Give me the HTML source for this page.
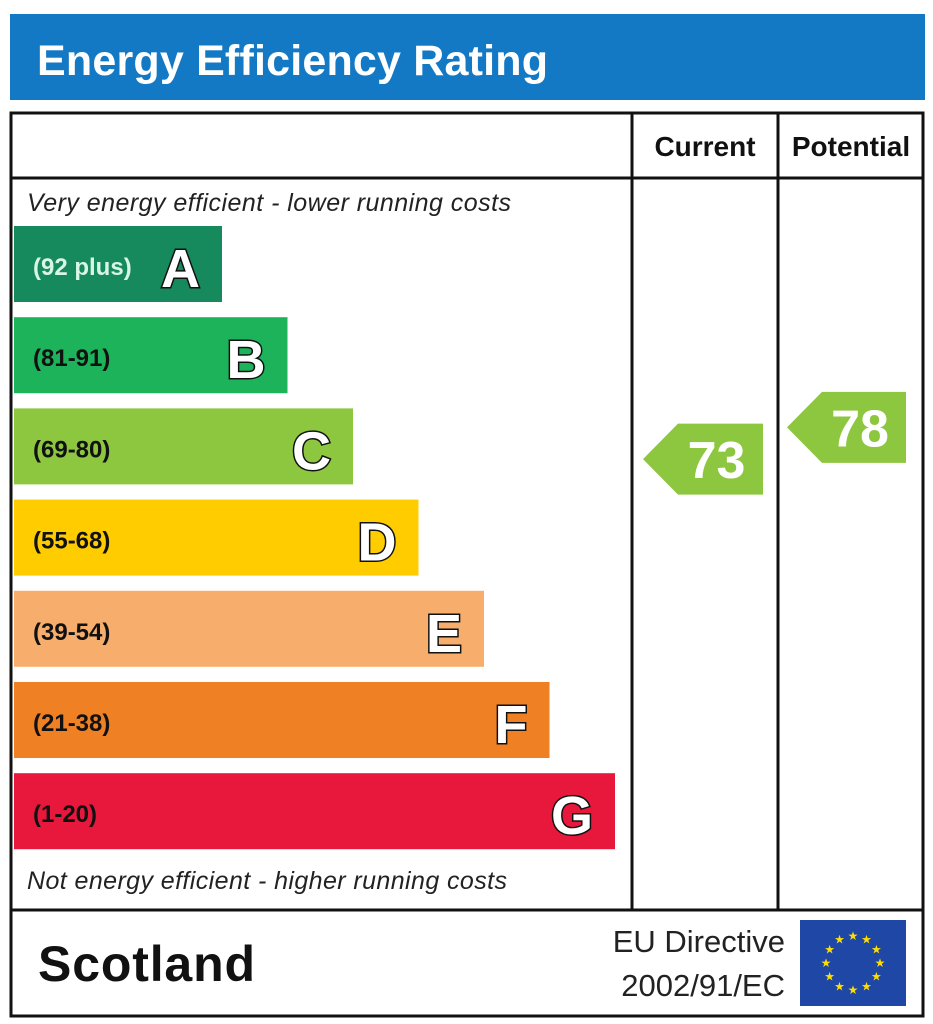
<!DOCTYPE html>
<html><head><meta charset="utf-8"><style>
body{margin:0;background:#fff;}
svg{display:block;font-family:"Liberation Sans",Arial,sans-serif;}
</style></head><body>
<svg id="c" width="933" height="1024" viewBox="0 0 933 1024">
<rect x="10" y="14" width="915" height="86" fill="#1479c4"/>
<text x="37" y="75" font-size="43" font-weight="bold" fill="#fff" textLength="511">Energy Efficiency Rating</text>
<rect x="11" y="113" width="912" height="797" fill="none" stroke="#111" stroke-width="3"/>
<line x1="632" y1="113" x2="632" y2="910" stroke="#111" stroke-width="3"/>
<line x1="778" y1="113" x2="778" y2="910" stroke="#111" stroke-width="3"/>
<line x1="11" y1="178" x2="923" y2="178" stroke="#111" stroke-width="3"/>
<text x="705" y="156" font-size="28" font-weight="bold" text-anchor="middle" fill="#111">Current</text>
<text x="851" y="156" font-size="28" font-weight="bold" text-anchor="middle" fill="#111">Potential</text>
<text x="27" y="211" font-size="25" font-style="italic" fill="#222" textLength="484">Very energy efficient - lower running costs</text>
<text x="27" y="889" font-size="25" font-style="italic" fill="#222" textLength="480">Not energy efficient - higher running costs</text>
<g id="bands"></g>
<g id="arrows"></g>
<rect x="11" y="910" width="912" height="106" fill="none" stroke="#111" stroke-width="3"/>
<text x="38" y="981" font-size="50" font-weight="bold" fill="#111" textLength="217">Scotland</text>
<text x="785" y="952" font-size="31" text-anchor="end" fill="#222">EU Directive</text>
<text x="785" y="996" font-size="31" text-anchor="end" fill="#222">2002/91/EC</text>
<rect x="800" y="920" width="106" height="86" fill="#1f47a6"/>
<g id="stars"></g>
</svg>
<script>
const bandLetters=["A","B","C","D","E","F","G"];
const bandRanges=["(92 plus)","(81-91)","(69-80)","(55-68)","(39-54)","(21-38)","(1-20)"];
const bandMin=[92,81,69,55,39,21,1];
const bandMax=[100,91,80,68,54,38,20];
const bandColors=["#168a5c","#1db35b","#8dc63f","#ffcc00","#f7ae6d","#ef8024","#e8173c"];
const currentValue=73;
const potentialValue=78;
const NS="http://www.w3.org/2000/svg";
function mk(t,a,p){const e=document.createElementNS(NS,t);for(const k in a)e.setAttribute(k,a[k]);p.appendChild(e);return e;}
const bandTop=i=>226+i*91.2, bandH=76;
const bandW=i=>208+i*65.5;
function valueY(v){for(let i=0;i<bandMin.length;i++){if(v>=bandMin[i]&&v<=bandMax[i]){return bandTop(i)+bandH-(v-bandMin[i])/(bandMax[i]-bandMin[i]+1)*bandH;}}return 500;}
function bandOf(v){for(let i=0;i<bandMin.length;i++)if(v>=bandMin[i]&&v<=bandMax[i])return i;return 0;}
const bg=document.getElementById('bands');
bandLetters.forEach((L,i)=>{
 const y=bandTop(i),w=bandW(i);
 const r=mk('rect',{x:14,y:y,width:w,height:bandH,fill:bandColors[i]},bg);
 
 
 const t=mk('text',{x:33,y:y+49,'font-size':24,'font-weight':'bold',fill:i==0?'#d8f5e6':'#111'},bg);
 t.textContent=bandRanges[i];
 
 
 const l=mk('text',{x:14+w-22,y:y+61,'font-size':54,'font-weight':'bold',fill:'#fff',stroke:'#111','stroke-width':3,'paint-order':'stroke','text-anchor':'end'},bg);
 l.textContent=L;
 
 
});
const ag=document.getElementById('arrows');
function arrow(v,x0,x1,name){
 const cy=valueY(v),h=71,tip=35;
 const p=mk('polygon',{points:`${x0},${cy} ${x0+tip},${cy-h/2} ${x1},${cy-h/2} ${x1},${cy+h/2} ${x0+tip},${cy+h/2}`,fill:bandColors[bandOf(v)]},ag);
 
 
 const t=mk('text',{x:(x0+tip+x1)/2-4,y:cy+19,'font-size':52,'font-weight':'bold',fill:'#fff','text-anchor':'middle'},ag);
 t.textContent=v;
 
 
}
arrow(currentValue,643,763,'current');
arrow(potentialValue,787,906,'potential');
const sg=document.getElementById('stars');
for(let k=0;k<12;k++){
 const a=k*Math.PI/6,cx=853+27*Math.sin(a),cy=963-27*Math.cos(a);
 const s=mk('text',{x:cx,y:cy+4,'font-size':12,fill:'#ffdd00','text-anchor':'middle'},sg);
 s.textContent='★';
 
 
}
</script>
</body></html>
